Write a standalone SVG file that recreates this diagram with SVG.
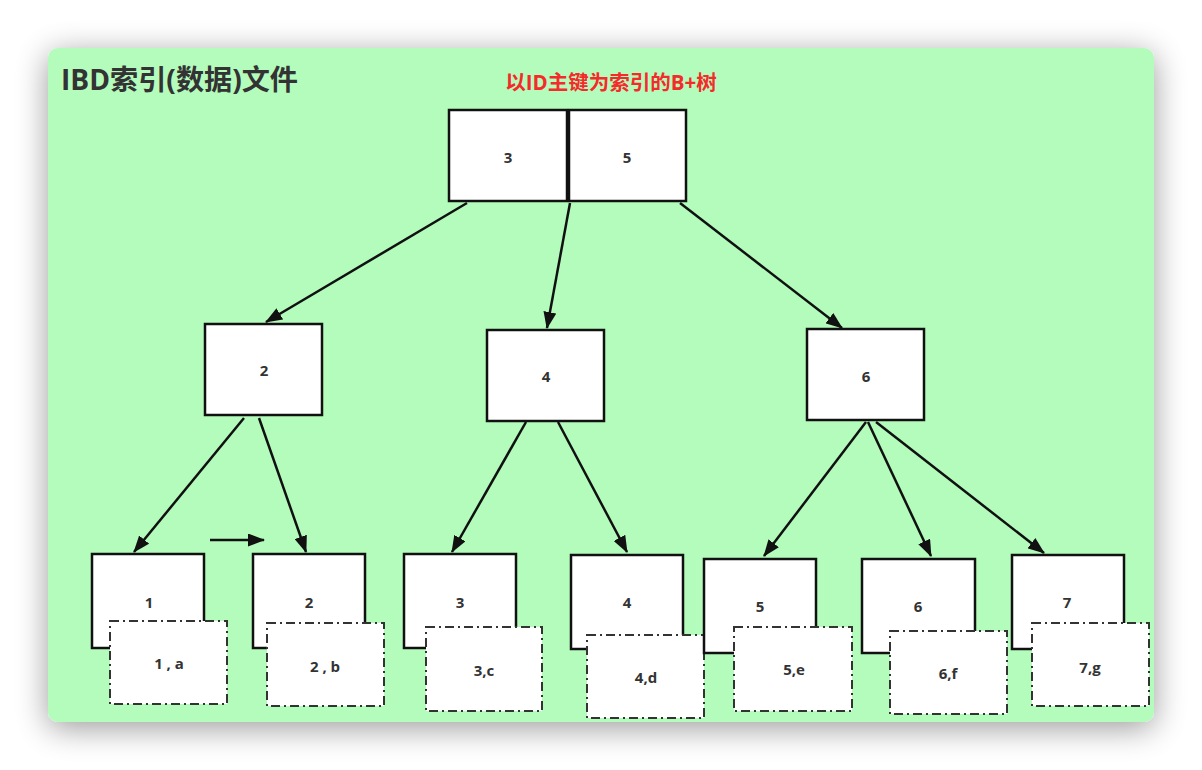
<svg xmlns="http://www.w3.org/2000/svg" width="1202" height="770" viewBox="0 0 1202 770">
<defs>
<filter id="sh" x="-10%" y="-10%" width="120%" height="125%">
<feGaussianBlur in="SourceAlpha" stdDeviation="16"/>
<feOffset dx="0" dy="6" result="b"/>
<feComponentTransfer><feFuncA type="linear" slope="0.4"/></feComponentTransfer>
<feMerge><feMergeNode/><feMergeNode in="SourceGraphic"/></feMerge>
</filter>
<marker id="ah" viewBox="0 0 17 13" refX="16" refY="6.5" markerWidth="17" markerHeight="13" markerUnits="userSpaceOnUse" orient="auto">
<path d="M0,0 L17,6.5 L0,13 z" fill="#111"/>
</marker>
<style>
.n{fill:#fff;stroke:#111;stroke-width:2.5}
.d{fill:#fff;stroke:#333;stroke-width:2;stroke-dasharray:9 4 2 4}
.t{font-family:"Open Sans","Liberation Sans",sans-serif;font-weight:bold;font-size:15px;fill:#333;text-anchor:middle;dominant-baseline:central}
.c{stroke:#111;stroke-width:2.5;fill:none;marker-end:url(#ah)}
</style>
</defs>
<rect width="1202" height="770" fill="#fff"/>
<rect x="48" y="48" width="1106" height="674" rx="10" fill="#b4fcbc" filter="url(#sh)"/>
<text x="61" y="90" font-family="'Open Sans','Noto Sans CJK SC',sans-serif" font-weight="bold" font-size="28" textLength="237" lengthAdjust="spacingAndGlyphs" fill="#333">IBD索引(数据)文件</text>
<text x="611" y="90" text-anchor="middle" font-family="'Open Sans','Noto Sans CJK SC',sans-serif" font-weight="bold" font-size="20.5" fill="#f52a2a">以ID主键为索引的B+树</text>
<g id="connectors">
<line class="c" x1="467" y1="203" x2="266" y2="322"/>
<line class="c" x1="570" y1="203" x2="547" y2="328"/>
<line class="c" x1="680" y1="203" x2="842" y2="328"/>
<line class="c" x1="244" y1="418" x2="134" y2="552"/>
<line class="c" x1="259" y1="418" x2="306" y2="552"/>
<line class="c" x1="526" y1="422" x2="452" y2="552"/>
<line class="c" x1="558" y1="422" x2="627" y2="552"/>
<line class="c" x1="866" y1="422" x2="764" y2="556"/>
<line class="c" x1="868" y1="422" x2="931" y2="556"/>
<line class="c" x1="876" y1="422" x2="1044" y2="553"/>
<line class="c" x1="210" y1="540" x2="264" y2="540"/>
</g>
<g id="root">
<rect class="n" x="449" y="110" width="118" height="91"/><text class="t" x="508" y="157">3</text>
<rect class="n" x="569" y="110" width="117" height="91"/><text class="t" x="627" y="157">5</text>
</g>
<g id="n2"><rect class="n" x="205" y="324" width="117" height="91"/><text class="t" x="264" y="370">2</text></g>
<g id="n4"><rect class="n" x="487" y="330" width="117" height="91"/><text class="t" x="546" y="376">4</text></g>
<g id="n6"><rect class="n" x="807" y="329" width="117" height="91"/><text class="t" x="866" y="376">6</text></g>
<g id="leaf1"><rect class="n" x="92" y="554" width="112" height="94"/><text class="t" x="149" y="602">1</text>
<rect class="d" x="110" y="621" width="117" height="83"/><text class="t" x="169" y="663">1 , a</text></g>
<g id="leaf2"><rect class="n" x="253" y="554" width="112" height="94"/><text class="t" x="309" y="602">2</text>
<rect class="d" x="267" y="623" width="117" height="83"/><text class="t" x="325" y="666">2 , b</text></g>
<g id="leaf3"><rect class="n" x="404" y="554" width="112" height="94"/><text class="t" x="460" y="602">3</text>
<rect class="d" x="426" y="627" width="116" height="84"/><text class="t" x="484" y="670">3,c</text></g>
<g id="leaf4"><rect class="n" x="571" y="555" width="112" height="94"/><text class="t" x="627" y="602">4</text>
<rect class="d" x="587" y="635" width="117" height="83"/><text class="t" x="646" y="677">4,d</text></g>
<g id="leaf5"><rect class="n" x="704" y="559" width="112" height="94"/><text class="t" x="760" y="606">5</text>
<rect class="d" x="734" y="627" width="118" height="84"/><text class="t" x="794" y="669">5,e</text></g>
<g id="leaf6"><rect class="n" x="862" y="559" width="113" height="94"/><text class="t" x="918" y="606">6</text>
<rect class="d" x="890" y="631" width="117" height="83"/><text class="t" x="948" y="673">6,f</text></g>
<g id="leaf7"><rect class="n" x="1012" y="555" width="112" height="94"/><text class="t" x="1067" y="602">7</text>
<rect class="d" x="1032" y="623" width="117" height="83"/><text class="t" x="1090" y="667">7,g</text></g>
</svg>
